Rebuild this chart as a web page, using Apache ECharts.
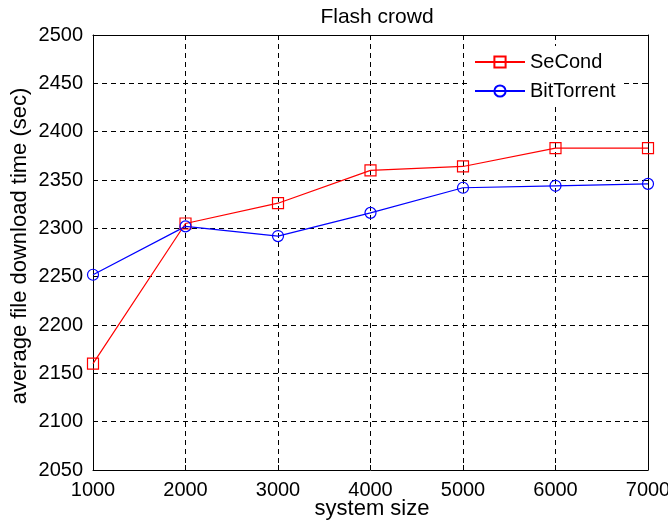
<!DOCTYPE html>
<html>
<head>
<meta charset="utf-8">
<script src="https://cdn.jsdelivr.net/npm/echarts@6/dist/echarts.min.js"></script>
<style>
  html, body { margin: 0; padding: 0; background: #fff; }
  #chart { width: 668px; height: 521px; }
</style>
</head>
<body>
<div id="chart"></div>
<script>
// System sizes (number of peers) on the x axis
const systemSizes = [1000, 2000, 3000, 4000, 5000, 6000, 7000];
// Average file download time in seconds
const secondTimes = [2160, 2305, 2326, 2360, 2364, 2383, 2383];
const bitTorrentTimes = [2252, 2302, 2292, 2316, 2342, 2344, 2346];
const seriesNames = ['SeCond', 'BitTorrent'];
const xAxisTitle = 'system size';
const yAxisTitle = 'average file download time (sec)';

const FONT = 'Liberation Sans, Arial, Helvetica, sans-serif';
const FS = 20;      // tick labels and legend
const NAME_FS = 22; // axis titles

const pairs = (xs, ys) => xs.map((x, i) => [x, ys[i]]);
const plain = v => String(v);

const dashed = { show: true, lineStyle: { color: '#000', type: [5, 4], width: 1 } };
const frameLine = { show: true, onZero: false, lineStyle: { color: '#000', width: 1 } };
const innerTick = { show: true, inside: true, length: 5, lineStyle: { color: '#000' } };

const titleText = (text, x, y, rotation) => ({
  type: 'text', x, y, rotation,
  style: {
    text, font: NAME_FS + 'px ' + FONT, fill: '#000',
    align: 'center', verticalAlign: 'middle'
  }
});

const chart = echarts.init(document.getElementById('chart'), null, { renderer: 'canvas' });

chart.setOption({
  animation: false,
  backgroundColor: '#fff',
  title: {
    text: 'Flash crowd',
    left: 372, top: 2, textAlign: 'center',
    textStyle: { fontFamily: FONT, fontSize: 21, fontWeight: 'normal', color: '#000' }
  },
  grid: { left: 93, right: 20, top: 35, bottom: 51, containLabel: false, outerBoundsMode: 'none' },
  legend: {
    orient: 'vertical',
    left: 468, top: 46,
    width: 178,
    backgroundColor: '#fff',
    padding: [6, 6, 6, 6],
    itemWidth: 50, itemHeight: 14, itemGap: 9,
    textStyle: { fontFamily: FONT, fontSize: FS, color: '#000', padding: [0, 0, 0, 0] },
    data: seriesNames
  },
  // axis titles
  graphic: [
    titleText(xAxisTitle, 372, 509, 0),
    titleText(yAxisTitle, 20, 246, Math.PI / 2)
  ],
  xAxis: [{
    type: 'value', position: 'bottom',
    min: 1000, max: 7000, interval: 1000,
    axisLine: frameLine, axisTick: innerTick,
    axisLabel: { fontFamily: FONT, fontSize: FS, color: '#000', margin: 10, formatter: plain },
    splitLine: dashed
  }, {
    type: 'value', position: 'top',
    min: 1000, max: 7000, interval: 1000,
    axisLine: frameLine, axisTick: innerTick,
    axisLabel: { show: false }, splitLine: { show: false }
  }],
  yAxis: [{
    type: 'value', position: 'left',
    min: 2050, max: 2500, interval: 50,
    axisLine: frameLine, axisTick: innerTick,
    axisLabel: { fontFamily: FONT, fontSize: FS, color: '#000', margin: 10, formatter: plain },
    splitLine: dashed
  }, {
    type: 'value', position: 'right',
    min: 2050, max: 2500, interval: 50,
    axisLine: frameLine, axisTick: innerTick,
    axisLabel: { show: false }, splitLine: { show: false }
  }],
  series: [{
    name: seriesNames[0],
    type: 'line',
    data: pairs(systemSizes, secondTimes),
    symbol: 'rect', symbolSize: 11,
    lineStyle: { color: '#ff0000', width: 1.2 },
    itemStyle: { color: 'rgba(0,0,0,0)', borderColor: '#ff0000', borderWidth: 1.2 },
    z: 3
  }, {
    name: seriesNames[1],
    type: 'line',
    data: pairs(systemSizes, bitTorrentTimes),
    symbol: 'circle', symbolSize: 11,
    lineStyle: { color: '#0000ff', width: 1.2 },
    itemStyle: { color: 'rgba(0,0,0,0)', borderColor: '#0000ff', borderWidth: 1.2 },
    z: 3
  }]
});
</script>
</body>
</html>
